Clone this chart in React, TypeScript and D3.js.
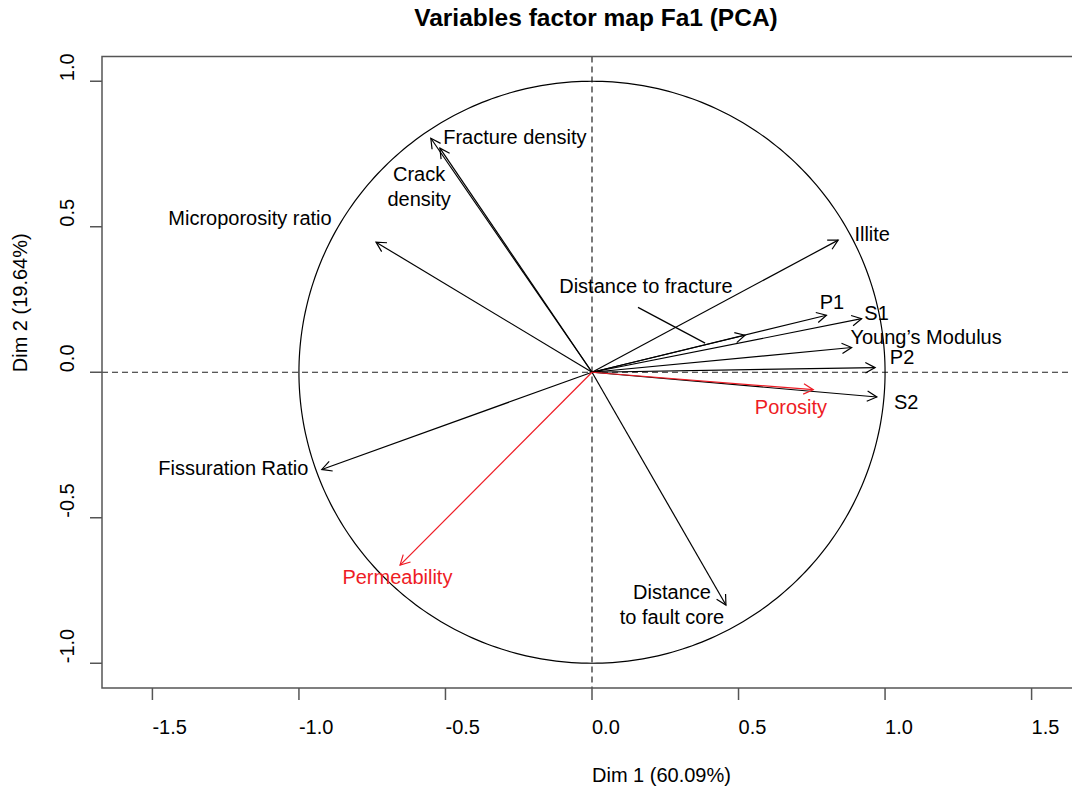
import React from "react";
import * as d3 from "d3";

const variables = ["Fracture density", "Crack density", "Microporosity ratio", "Illite", "Distance to fracture", "P1", "S1", "Young's Modulus", "P2", "S2", "Fissuration Ratio", "Distance to fault core"];
const dim1 = [-0.550, -0.519, -0.737, 0.840, 0.522, 0.800, 0.920, 0.886, 0.966, 0.972, -0.922, 0.457];
const dim2 = [0.804, 0.770, 0.447, 0.454, 0.127, 0.196, 0.184, 0.085, 0.016, -0.085, -0.334, -0.800];

const suppVariables = ["Porosity", "Permeability"];
const suppDim1 = [0.755, -0.655];
const suppDim2 = [-0.060, -0.663];

// label lines and label centres (data units)
const labelLines = [["Fracture density"], ["Crack", "density"], ["Microporosity ratio"], ["Illite"], ["Distance to fracture"], ["P1"], ["S1"], ["Young’s Modulus"], ["P2"], ["S2"], ["Fissuration Ratio"], ["Distance", "to fault core"]];
const labelX = [-0.263, -0.590, -1.167, 0.956, 0.184, 0.819, 0.971, 1.140, 1.058, 1.072, -1.224, 0.273];
const labelY = [0.809, 0.680, 0.529, 0.474, 0.296, 0.242, 0.203, 0.121, 0.053, -0.103, -0.329, -0.756];
const suppLabelX = [0.679, -0.664];
const suppLabelY = [-0.119, -0.704];

// leader line for "Distance to fracture"
const leader = { x1: 0.157, y1: 0.223, x2: 0.386, y2: 0.100 };

const xTicks = [-1.5, -1.0, -0.5, 0.0, 0.5, 1.0, 1.5];
const yTicks = [-1.0, -0.5, 0.0, 0.5, 1.0];

const title = "Variables factor map Fa1 (PCA)";
const xTitle = "Dim 1 (60.09%)";
const yTitle = "Dim 2 (19.64%)";

const W = 1072;
const H = 790;
const FONT = "'Liberation Sans', Arial, Helvetica, sans-serif";
const RED = "#ee1c25";

export default function App() {
  const x = d3.scaleLinear().domain([-1.672, 1.672]).range([102, 1082]);
  const y = d3.scaleLinear().domain([-1.085, 1.085]).range([688, 56.5]);
  const left = x.range()[0];
  const right = x.range()[1];
  const top = y.range()[1];
  const bottom = y.range()[0];

  const circlePts: [number, number][] = d3.range(0, 361, 1).map((a) => {
    const t = (a * Math.PI) / 180;
    return [x(Math.cos(t)), y(Math.sin(t))];
  });
  const circlePath = d3.line()(circlePts) || "";

  const arrow = (vx: number, vy: number, color: string, key: string) => {
    const x0 = x(0), y0 = y(0), x1 = x(vx), y1 = y(vy);
    const ang = Math.atan2(y1 - y0, x1 - x0);
    const L = 11, A = (28 * Math.PI) / 180;
    const p1 = [x1 - L * Math.cos(ang - A), y1 - L * Math.sin(ang - A)];
    const p2 = [x1 - L * Math.cos(ang + A), y1 - L * Math.sin(ang + A)];
    return (
      <g key={key} stroke={color} strokeWidth={1.2} fill="none">
        <line x1={x0} y1={y0} x2={x1} y2={y1} />
        <polyline points={`${p1[0]},${p1[1]} ${x1},${y1} ${p2[0]},${p2[1]}`} />
      </g>
    );
  };

  const label = (lines: string[], lx: number, ly: number, color: string, key: string) => {
    const cx = x(lx), cy = y(ly);
    return (
      <text key={key} x={cx} y={cy} fill={color} fontSize={20} textAnchor="middle" fontFamily={FONT}>
        {lines.map((l, i) => (
          <tspan key={i} x={cx} y={cy + i * 25} dy="0.35em">{l}</tspan>
        ))}
      </text>
    );
  };

  return (
    <svg width={W} height={H} style={{ position: "absolute", left: 0, top: 0, background: "#fff" }} fontFamily={FONT}>
      <defs>
        <clipPath id="clipAll"><rect x={0} y={0} width={W} height={H} /></clipPath>
      </defs>
      <rect x={0} y={0} width={W} height={H} fill="#fff" />
      <text x={x(0) + 4} y={17} dy="0.35em" textAnchor="middle" fontSize={24.5} fontWeight="bold" fill="#000">{title}</text>

      {/* dashed axes */}
      <line x1={x(0)} x2={x(0)} y1={top} y2={bottom} stroke="#222" strokeWidth={1.2} strokeDasharray="6,4" />
      <line x1={left} x2={right} y1={y(0)} y2={y(0)} stroke="#222" strokeWidth={1.2} strokeDasharray="6,4" />

      {/* circle */}
      <path d={circlePath} fill="none" stroke="#000" strokeWidth={1.2} />

      {/* arrows */}
      {variables.map((v, i) => arrow(dim1[i], dim2[i], "#000", "a" + i))}
      {suppVariables.map((v, i) => arrow(suppDim1[i], suppDim2[i], RED, "s" + i))}

      <line x1={x(leader.x1)} y1={y(leader.y1)} x2={x(leader.x2)} y2={y(leader.y2)} stroke="#000" strokeWidth={1.2} />

      {/* labels */}
      {variables.map((v, i) => label(labelLines[i], labelX[i], labelY[i], "#000", "l" + i))}
      {suppVariables.map((v, i) => label([v], suppLabelX[i], suppLabelY[i], RED, "sl" + i))}

      {/* box */}
      <rect x={left} y={top} width={right - left} height={bottom - top} fill="none" stroke="#555" strokeWidth={1.5} />

      {/* x axis */}
      {xTicks.map((t) => (
        <g key={"xt" + t}>
          <line x1={x(t)} x2={x(t)} y1={bottom} y2={bottom + 12} stroke="#555" strokeWidth={1.5} />
          <text x={x(t)} y={727} dy="0.35em" textAnchor="start" fontSize={20} fill="#000">{t.toFixed(1)}</text>
        </g>
      ))}
      {/* y axis */}
      {yTicks.map((t) => (
        <g key={"yt" + t}>
          <line x1={left - 12} x2={left} y1={y(t)} y2={y(t)} stroke="#555" strokeWidth={1.5} />
          <text transform={`translate(67,${y(t)}) rotate(-90)`} dy="0.35em" textAnchor="start" fontSize={20} fill="#000">{t.toFixed(1)}</text>
        </g>
      ))}

      <text x={x(0)} y={775} dy="0.35em" textAnchor="start" fontSize={20} fill="#000">{xTitle}</text>
      <text transform={`translate(20,${y(0)}) rotate(-90)`} dy="0.35em" textAnchor="start" fontSize={20} fill="#000">{yTitle}</text>
    </svg>
  );
}
